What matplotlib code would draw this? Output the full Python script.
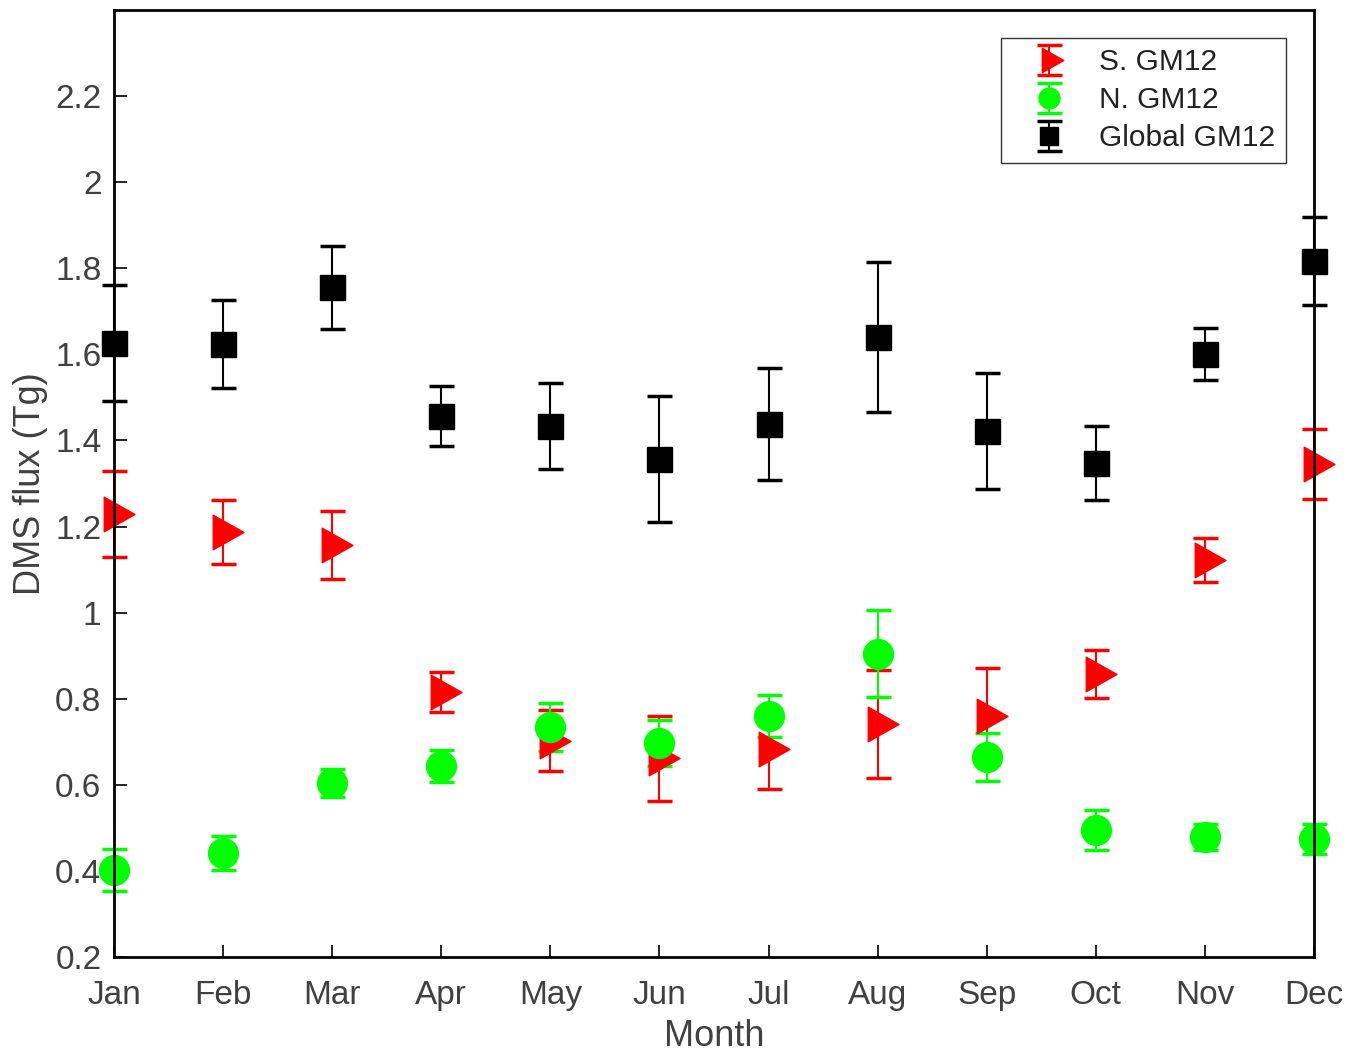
import matplotlib.pyplot as plt
from matplotlib.path import Path
from matplotlib.ticker import FormatStrFormatter

plt.rcParams['font.family'] = ['Liberation Sans', 'DejaVu Sans']

months = ['Jan', 'Feb', 'Mar', 'Apr', 'May', 'Jun',
          'Jul', 'Aug', 'Sep', 'Oct', 'Nov', 'Dec']
x = list(range(1, 13))

# global flux and its spread
glob_flux = [1.627, 1.624, 1.756, 1.457, 1.433, 1.357, 1.438, 1.640, 1.422, 1.348, 1.601, 1.817]
glob_err = [0.135, 0.102, 0.096, 0.069, 0.100, 0.147, 0.131, 0.174, 0.135, 0.086, 0.061, 0.102]

# southern hemisphere
south_flux = [1.229, 1.187, 1.157, 0.816, 0.702, 0.662, 0.683, 0.741, 0.760, 0.857, 1.122, 1.345]
south_err = [0.099, 0.075, 0.079, 0.047, 0.071, 0.099, 0.093, 0.126, 0.111, 0.056, 0.051, 0.082]

# northern hemisphere
north_flux = [0.402, 0.442, 0.604, 0.644, 0.734, 0.697, 0.760, 0.904, 0.665, 0.495, 0.479, 0.474]
north_err = [0.049, 0.039, 0.032, 0.037, 0.056, 0.053, 0.048, 0.101, 0.056, 0.046, 0.031, 0.035]

# right-pointing triangle centred on its centroid
tri = Path([(-1, 1.69), (2, 0), (-1, -1.69), (-1, 1.69)],
           [Path.MOVETO, Path.LINETO, Path.LINETO, Path.CLOSEPOLY])

fig = plt.figure(figsize=(13.47, 10.52), dpi=100)
ax = fig.add_axes([0.0846, 0.0903, 0.9755 - 0.0846, 0.9905 - 0.0903])

eb_kw = dict(linestyle='none', capsize=9, elinewidth=1.5, capthick=2.5, clip_on=False)

h_glob = ax.errorbar(x, glob_flux, yerr=glob_err, fmt='s', color='black',
                     markersize=18, label='Global GM12', **eb_kw)
h_south = ax.errorbar(x, south_flux, yerr=south_err, fmt='', color='red',
                      marker=tri, markersize=29.5, label='S. GM12', **eb_kw)
h_north = ax.errorbar(x, north_flux, yerr=north_err, fmt='o', color='#00ff00',
                      markersize=21.5, label='N. GM12', **eb_kw)
for h in (h_glob, h_south, h_north):
    for part in h.get_children():
        part.set_clip_on(False)

ax.set_xlim(1, 12)
ax.set_ylim(0.2, 2.4)
ax.set_xticks(x)
ax.set_xticklabels(months)
ax.set_yticks([0.2 + 0.2 * i for i in range(11)])
ax.yaxis.set_major_formatter(FormatStrFormatter('%g'))

ax.tick_params(direction='in', length=9, width=1.2, labelsize=24,
               labelcolor='#404040', top=False, right=False)
ax.tick_params(axis='x', pad=16.5)
ax.tick_params(axis='y', pad=9)
for sp in ax.spines.values():
    sp.set_linewidth(2)
    sp.set_color('black')

ax.set_xlabel('Month', fontsize=26, color='#404040', labelpad=6)
ax.set_ylabel('DMS flux (Tg)', fontsize=26, color='#404040', labelpad=5)

leg = ax.legend(handles=[h_south, h_north, h_glob], loc='upper right',
                bbox_to_anchor=(0.9767, 0.9704), borderaxespad=0,
                fontsize=21.5, frameon=True, fancybox=False, edgecolor='black',
                handlelength=2.5, handletextpad=0.45, borderpad=0.35,
                labelspacing=0.33, markerscale=0.7)
leg.get_frame().set_linewidth(1)
for t in leg.get_texts():
    t.set_color('#222222')

fig.savefig('out.png', dpi=100)
